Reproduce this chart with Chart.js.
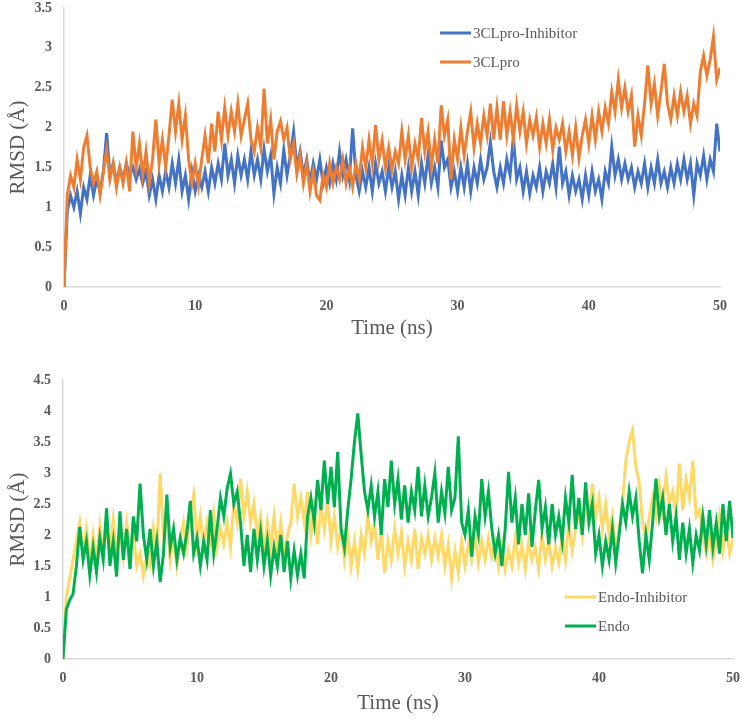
<!DOCTYPE html>
<html>
<head>
<meta charset="utf-8">
<script src="https://cdn.jsdelivr.net/npm/chart.js@4.4.1/dist/chart.umd.min.js"></script>
<style>
  body { margin: 0; background: #fff; }
  #wrap { width: 742px; height: 719px; position: relative; }
  canvas { display: block; position: absolute; left: 0; }
  #top { top: 0; }
  #bottom { top: 360px; }
</style>
</head>
<body>
<div id="wrap">
  <canvas id="top" width="742" height="345"></canvas>
  <canvas id="bottom" width="742" height="359"></canvas>
</div>
<script>
"use strict";

// sampling grid: 0 .. 50 ns every 0.25 ns (201 frames)
const timeStep = 0.25;
const time = Array.from({ length: 201 }, (_, i) => i * timeStep);

const xTicks = [0, 10, 20, 30, 40, 50];
const yTicksTop = [0, 0.5, 1, 1.5, 2, 2.5, 3, 3.5];
const yTicksBottom = [0, 0.5, 1, 1.5, 2, 2.5, 3, 3.5, 4, 4.5];

// RMSD (Å)
const rmsd3CLproInhibitor = [
  0, 0.95, 1.15, 1.0, 1.2, 0.92, 1.25, 1.1, 1.4, 1.15, 1.35, 1.2, 1.45, 1.93, 1.4, 1.55, 1.3, 1.5, 1.35, 1.55,
  1.4, 1.5, 1.35, 1.48, 1.3, 1.45, 1.15, 1.35, 1.1, 1.4, 1.2, 1.45, 1.25, 1.55, 1.3, 1.6, 1.2, 1.4, 1.1, 1.45,
  1.2, 1.4, 1.25, 1.45, 1.2, 1.5, 1.3, 1.55, 1.35, 1.8, 1.4, 1.6, 1.3, 1.65, 1.4, 1.6, 1.35, 1.7, 1.4, 1.6,
  1.35, 1.73, 1.45, 1.65, 1.17, 1.5, 1.3, 1.72, 1.4, 1.65, 1.95, 1.5, 1.7, 1.4, 1.6, 1.3, 1.55, 1.35, 1.6, 1.3,
  1.5, 1.3, 1.55, 1.35, 1.7, 1.4, 1.6, 1.35, 1.99, 1.4, 1.2, 1.45, 1.25, 1.5, 1.2, 1.55, 1.3, 1.45, 1.2, 1.5,
  1.25, 1.45, 1.1, 1.4, 1.15, 1.5, 1.2, 1.45, 1.15, 1.55, 1.3, 1.65, 1.3, 1.5, 1.25, 1.84, 1.5, 1.6, 1.25, 1.45,
  1.2, 1.5, 1.25, 1.55, 1.2, 1.5, 1.3, 1.6, 1.35, 1.5, 1.82, 1.45, 1.25, 1.5, 1.3, 1.6, 1.4, 1.88, 1.35, 1.5,
  1.2, 1.45, 1.17, 1.4, 1.25, 1.5, 1.2, 1.45, 1.3, 1.55, 1.25, 1.76, 1.3, 1.45, 1.15, 1.4, 1.2, 1.35, 1.1, 1.4,
  1.15, 1.45, 1.2, 1.35, 1.1, 1.45, 1.3, 1.76, 1.4, 1.6, 1.35, 1.55, 1.35, 1.5, 1.25, 1.45, 1.3, 1.55, 1.25, 1.5,
  1.3, 1.6, 1.3, 1.45, 1.25, 1.5, 1.3, 1.55, 1.35, 1.6, 1.35, 1.55, 1.15, 1.55, 1.4, 1.65, 1.35, 1.6, 1.45, 2.05,
  1.7
];
const rmsd3CLpro = [
  0, 1.15, 1.4, 1.25, 1.6, 1.35, 1.75, 1.9, 1.5, 1.3, 1.45, 1.15, 1.45, 1.72, 1.35, 1.55, 1.25, 1.5, 1.3, 1.55,
  1.2, 1.95, 1.5, 1.8, 1.4, 1.7, 1.3, 1.6, 2.1, 1.55, 1.85, 1.5, 1.9, 2.35, 1.95, 2.3, 1.85, 2.15, 1.6, 1.3,
  1.55, 1.27, 1.6, 1.9, 1.55, 2.05, 1.7, 2.2, 1.85, 2.25, 1.9, 2.2, 1.95, 2.3, 1.9, 2.1, 2.3, 1.85, 1.7, 2.0,
  1.75, 2.49, 1.8, 2.1, 1.6, 1.95, 2.08, 1.85, 2.0, 1.6, 1.8, 1.42, 1.65, 1.3, 1.55, 1.2, 1.45, 1.15, 1.09, 1.4,
  1.25, 1.55, 1.3, 1.5, 1.35, 1.6, 1.3, 1.5, 1.26, 1.55, 1.35, 1.75, 1.5, 1.85, 1.55, 2.03, 1.6, 1.84, 1.5, 1.75,
  1.47, 1.7, 1.55, 1.95, 1.6, 1.9, 1.5, 1.8, 1.6, 2.12, 1.7, 1.95, 1.5, 1.85, 1.55, 2.28, 1.9, 2.1, 1.35, 1.85,
  1.6, 2.0, 1.65, 1.95, 2.2, 1.75, 2.05, 1.8, 2.15, 1.9, 2.3, 1.85, 2.25, 1.85, 2.33, 1.9, 2.2, 1.85, 2.28, 1.95,
  2.2, 1.8, 2.1, 1.9, 2.13, 1.75, 2.05, 1.8, 2.1, 1.72, 2.0, 1.85, 2.05, 1.7, 1.95, 1.65, 2.0, 1.62, 1.9, 2.1,
  1.8, 2.15, 1.85, 2.2, 1.95, 2.25, 2.05, 2.45, 2.2, 2.6, 2.25, 2.5, 2.2, 2.4, 1.76, 2.15, 1.9, 2.3, 2.78, 2.3,
  2.55, 2.15, 2.45, 2.8, 2.3, 2.1, 2.4, 2.15, 2.45, 2.2, 2.4, 2.05, 2.3, 2.15, 2.7, 2.9, 2.65, 2.85, 3.14, 2.6,
  2.75
];
const rmsdEndoInhibitor = [
  0, 1.0, 1.3, 1.6, 1.9, 2.2, 1.75, 2.1, 1.55, 2.0, 1.6, 2.15, 1.7, 2.1, 1.75, 2.25, 1.7, 2.1, 1.65, 2.2,
  1.8, 2.05, 1.5, 1.7, 1.35, 1.65, 1.5, 2.1, 1.7, 2.99, 2.0, 2.3, 1.6, 2.0, 1.5, 1.9, 2.2, 1.8, 2.3, 2.64,
  1.9, 2.3, 1.8, 2.2, 1.9, 2.35, 1.8, 2.1, 1.85, 2.2, 1.8, 2.5, 2.2, 2.91, 2.3, 2.7, 2.2, 2.5, 2.0, 2.3,
  1.7, 2.2, 1.8, 2.3, 1.75, 2.2, 1.65, 2.0, 2.2, 2.83, 2.3, 2.6, 2.2, 2.7, 2.0, 2.4, 1.85, 2.5, 2.1, 2.56,
  1.9, 2.3, 1.81, 2.1, 1.6, 2.0, 1.5, 1.9, 1.45, 2.0, 1.7, 2.3, 1.9, 2.2, 1.6, 2.1, 1.38, 1.9, 1.6, 2.1,
  1.7, 2.05, 1.5, 1.9, 1.6, 2.1, 1.45, 1.95, 1.7, 2.0, 1.6, 1.95, 1.65, 2.0, 1.5, 1.85, 1.3, 1.75, 1.4, 1.9,
  1.5, 1.85, 1.6, 2.0, 1.55, 1.9, 1.6, 1.95, 1.65, 1.9, 1.5, 1.85, 1.45, 1.75, 1.5, 1.95, 1.55, 1.85, 1.45, 1.9,
  1.6, 1.8, 1.45, 2.0, 1.6, 1.9, 1.5, 1.8, 1.55, 2.0, 1.6, 2.2, 1.75, 2.1, 2.4, 2.0, 2.6, 2.2, 2.83, 2.3,
  2.6, 2.1, 2.5, 2.0, 2.3, 1.7, 2.1, 2.5, 3.2, 3.5, 3.69, 3.1, 2.85, 2.2, 1.9, 2.3, 2.6, 2.3, 2.8, 2.4,
  2.94, 2.5, 2.7, 2.3, 3.15, 2.4, 2.9, 2.6, 3.2, 2.3, 2.4, 2.0, 1.7, 2.0, 1.6, 1.9, 2.3, 1.75, 2.1, 1.7,
  1.95
];
const rmsdEndo = [
  0, 0.8, 0.95, 1.05, 1.5, 2.13, 1.6, 1.9, 1.35, 1.8, 1.4, 1.95, 1.6, 2.43, 1.5, 1.9, 1.33, 2.38, 1.6, 2.1,
  1.45, 2.3, 1.9, 2.83, 2.0, 1.6, 2.1, 1.5, 1.9, 1.24, 1.7, 2.65, 1.8, 2.1, 1.6, 1.95, 1.7, 2.05, 2.55, 1.7,
  1.95, 1.5, 1.9, 1.6, 2.4, 1.7, 2.1, 2.6, 2.3, 2.75, 2.99, 2.5, 2.7, 2.2, 1.5, 2.0, 1.4, 2.1, 1.6, 2.05,
  1.5, 1.9, 1.35, 1.8, 1.5, 2.0, 1.4, 1.9, 1.3, 1.75, 1.35, 1.7, 1.3, 2.3, 2.6, 2.2, 2.89, 2.4, 3.2, 2.5,
  3.1, 2.45, 3.34, 2.1, 1.8, 2.4, 2.9, 3.5, 3.96, 3.3, 2.7, 2.4, 2.8, 2.3, 2.7, 2.0, 2.9, 2.45, 3.2, 2.5,
  2.9, 2.25, 2.8, 2.2, 2.7, 2.4, 3.1, 2.3, 2.8, 2.3, 2.6, 3.0, 2.2, 2.7, 2.35, 3.1, 2.4, 2.6, 3.59, 2.2,
  2.0, 2.4, 1.65, 2.3, 2.0, 2.9, 2.3, 2.7, 2.1, 1.7, 2.0, 1.5, 2.1, 3.02, 2.2, 2.6, 1.85, 2.5, 2.0, 2.67,
  1.81, 2.4, 2.89, 2.1, 2.45, 1.85, 2.5, 2.0, 2.3, 1.9, 2.6, 2.2, 2.97, 2.1, 2.6, 2.0, 2.85, 2.2, 2.5, 1.7,
  2.0, 1.5, 1.9, 1.6, 2.1, 1.55, 2.0, 2.5, 2.2, 2.7, 2.3, 2.6, 1.9, 1.38, 2.0, 1.6, 2.2, 2.91, 2.3, 2.6,
  2.0, 2.5, 1.9, 2.3, 1.6, 2.2, 1.7, 2.1, 1.55, 2.0, 1.75, 2.3, 1.85, 2.4, 1.8, 2.2, 1.7, 2.5, 1.9, 2.55,
  1.95
];

const GREY = '#595959';
const SERIF = '"Liberation Serif", "Times New Roman", serif';

function toPoints(values) {
  return values.map((v, i) => ({ x: time[i], y: v }));
}

function line(label, values, color, order) {
  return {
    label: label,
    data: toPoints(values),
    borderColor: color,
    backgroundColor: color,
    borderWidth: 3,
    pointRadius: 0,
    tension: 0,
    order: order
  };
}

// legend drawn inside the plot area, like the original figure
const insideLegend = {
  id: 'insideLegend',
  afterDatasetsDraw(chart, args, opts) {
    const ctx = chart.ctx;
    ctx.save();
    ctx.font = '15px ' + SERIF;
    ctx.textBaseline = 'middle';
    chart.data.datasets.forEach((ds, i) => {
      const y = opts.y + i * opts.gap;
      ctx.strokeStyle = ds.borderColor;
      ctx.lineWidth = 3;
      ctx.beginPath();
      ctx.moveTo(opts.x, y);
      ctx.lineTo(opts.x + 31, y);
      ctx.stroke();
      ctx.fillStyle = GREY;
      ctx.fillText(ds.label, opts.x + 33, y + 1);
    });
    ctx.restore();
  }
};

function makeChart(id, datasets, yTicks, box) {
  return new Chart(document.getElementById(id), {
    type: 'line',
    data: { datasets: datasets },
    plugins: [insideLegend],
    options: {
      responsive: false,
      animation: false,
      events: [],
      layout: { padding: { top: box.top, right: box.right, left: 0, bottom: 0 } },
      plugins: {
        legend: { display: false },
        tooltip: { enabled: false },
        insideLegend: box.legend
      },
      scales: {
        x: {
          type: 'linear',
          min: 0,
          max: 50,
          afterBuildTicks: s => { s.ticks = xTicks.map(v => ({ value: v })); },
          afterFit: s => { s.height = box.xHeight; s.paddingLeft = 0; s.paddingRight = 0; },
          grid: { display: false, drawTicks: false },
          border: { display: true, color: '#d9d9d9', width: 1.5 },
          ticks: { padding: 11, color: GREY, font: { family: SERIF, size: 14, weight: 'bold' }, maxRotation: 0 },
          title: { display: true, text: 'Time (ns)', color: GREY, font: { family: SERIF, size: 21 }, padding: { top: 0, bottom: box.titlePad } }
        },
        y: {
          min: 0,
          max: yTicks[yTicks.length - 1],
          afterBuildTicks: s => { s.ticks = yTicks.map(v => ({ value: v })); },
          afterFit: s => { s.width = box.yWidth; s.paddingTop = 0; s.paddingBottom = 0; },
          grid: { display: false, drawTicks: false },
          border: { display: true, color: '#d9d9d9', width: 1.5 },
          ticks: { padding: 12, color: GREY, font: { family: SERIF, size: 14, weight: 'bold' }, callback: v => String(v) },
          title: { display: true, text: 'RMSD (Å)', color: GREY, font: { family: SERIF, size: 21 }, padding: { top: 6, bottom: 0 } }
        }
      }
    }
  });
}

makeChart('top', [
  line('3CLpro-Inhibitor', rmsd3CLproInhibitor, '#4472C4', 2),
  line('3CLpro', rmsd3CLpro, '#ED7D31', 1)
], yTicksTop, { top: 8, right: 22, xHeight: 58, yWidth: 64, titlePad: 4, legend: { x: 440, y: 33, gap: 29 } });

makeChart('bottom', [
  line('Endo-Inhibitor', rmsdEndoInhibitor, '#FFD966', 2),
  line('Endo', rmsdEndo, '#00B050', 1)
], yTicksBottom, { top: 20, right: 9, xHeight: 60, yWidth: 63, titlePad: 3, legend: { x: 565, y: 237, gap: 29 } });
</script>
</body>
</html>
